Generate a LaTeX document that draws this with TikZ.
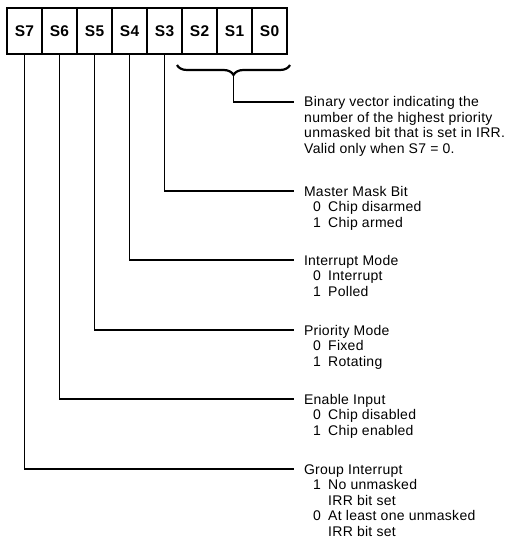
\documentclass[tikz,border=0pt]{standalone}
\usepackage{fontspec}
\setmainfont{Liberation Sans}[LetterSpace=2]
\usepackage{tikz}
\usetikzlibrary{decorations.pathreplacing}

\tikzset{
  bitbox/.style={draw, line width=1.5pt, minimum width=35pt, minimum height=46pt,
    inner sep=0pt, font=\fontsize{15.5}{16}\selectfont\bfseries},
  wire/.style={line width=1.2pt},
  field/.style={anchor=west, inner sep=0pt, outer xsep=10pt, text height=10pt,
    text depth=0pt, font=\fontsize{14}{15.5}\selectfont},
  values/.style={anchor=base west, inner sep=0pt, font=\fontsize{14}{15.5}\selectfont}
}
\newcommand{\vals}[1]{\begin{tabular}[t]{@{}p{15pt}@{}l@{}}#1\end{tabular}}

\begin{document}
\begin{tikzpicture}[x=1pt,y=-1pt]
    \useasboundingbox (0,0) rectangle (517,548);

    % Status byte
    \foreach \i [count=\k from 0] in {7,6,...,0}
        \node[bitbox] (b\i) at (24.5+35*\k,31) {S\i};

    % Brace under S2..S0
    \coordinate (brr) at (290,65);
    \coordinate (brl) at (177,65);
    \coordinate (brtip) at (233.5,75);
    \coordinate (binend) at (294,102);
    \draw[line width=2.2pt, decorate, decoration={brace, amplitude=10pt}] (brr) -- (brl);
    \draw[wire] (brtip) |- (binend);
    \node[values] (bin) at (304,107) {\begin{tabular}[t]{@{}l@{}}
        Binary vector indicating the\\
        number of the highest priority\\
        unmasked bit that is set in IRR.\\
        Valid only when S7 = 0.\end{tabular}};

    % S3: master mask bit
    \node[field] (t3) at (294,191) {Master Mask Bit};
    \node[values] (v3) at (313,211.5) {\vals{0 & Chip disarmed\\ 1 & Chip armed}};
    \draw[wire] (b3.south) |- (t3.west);

    % S4: interrupt mode
    \node[field] (t4) at (294,260) {Interrupt Mode};
    \node[values] (v4) at (313,280.5) {\vals{0 & Interrupt\\ 1 & Polled}};
    \draw[wire] (b4.south) |- (t4.west);

    % S5: priority mode
    \node[field] (t5) at (294,330) {Priority Mode};
    \node[values] (v5) at (313,350.5) {\vals{0 & Fixed\\ 1 & Rotating}};
    \draw[wire] (b5.south) |- (t5.west);

    % S6: enable input
    \node[field] (t6) at (294,399) {Enable Input};
    \node[values] (v6) at (313,419.5) {\vals{0 & Chip disabled\\ 1 & Chip enabled}};
    \draw[wire] (b6.south) |- (t6.west);

    % S7: group interrupt
    \node[field] (t7) at (294,469) {Group Interrupt};
    \node[values] (v7) at (313,489.5) {\vals{1 & No unmasked\\ & IRR bit set\\
        0 & At least one unmasked\\ & IRR bit set}};
    \draw[wire] (b7.south) |- (t7.west);
\end{tikzpicture}
\end{document}
